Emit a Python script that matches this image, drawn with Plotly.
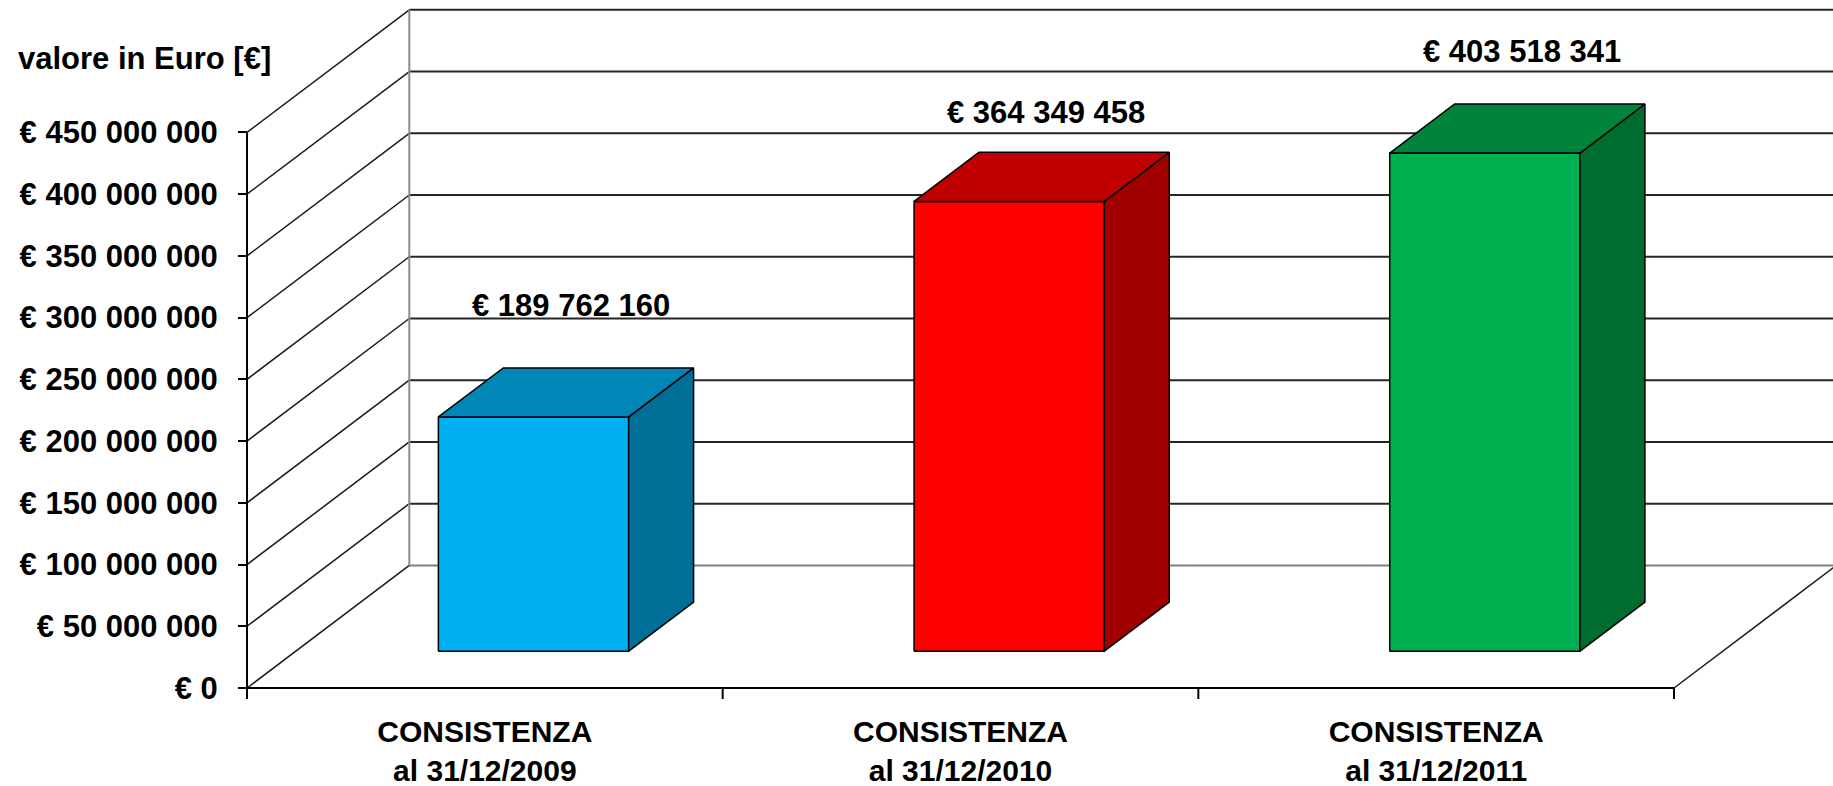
import plotly.graph_objects as go

# ---------------- data ----------------
categories = ["CONSISTENZA<br>al 31/12/2009",
              "CONSISTENZA<br>al 31/12/2010",
              "CONSISTENZA<br>al 31/12/2011"]
values = [189762160, 364349458, 403518341]
y_ticks = [0, 50000000, 100000000, 150000000, 200000000,
           250000000, 300000000, 350000000, 400000000, 450000000]
y_axis_title = "valore in Euro [€]"

# ---------------- style ----------------
front_colors = ["#00B0F0", "#FF0000", "#00B050"]
top_colors = ["#0087B8", "#C00000", "#00843C"]
side_colors = ["#006F98", "#A00000", "#006C2F"]
label_gap_px = [87, 64, 77]   # vertical gap of each value label above its bar

W, H = 1833, 786
FONT = "Liberation Sans, Arial, sans-serif"
FS = 31

# pixel geometry of the 3D frame
PX_PER_CAT = 475.67           # px per category on front plane
PX_PER_EUR = 61.73 / 50e6     # px per euro
DX = 162.3 / PX_PER_CAT       # depth offset (x units)
DY = 122.6 / PX_PER_EUR       # depth offset (euro units)
Z0, Z1 = 0.3, 0.7             # bar depth span
B0, B1 = 0.3, 0.7             # bar width span within category

L_MARGIN, B_MARGIN = 227, 76
PAD_X, PAD_Y = 20, 22
plot_w = W - L_MARGIN
plot_h = H - B_MARGIN
x0 = -PAD_X / PX_PER_CAT
x1 = x0 + plot_w / PX_PER_CAT
y0 = -PAD_Y / PX_PER_EUR
y1 = y0 + plot_h / PX_PER_EUR

n = len(values)
ymax_tick = y_ticks[-1]

fig = go.Figure()


def line(xs, ys, color="#1a1a1a", width=2):
    fig.add_trace(go.Scatter(x=xs, y=ys, mode="lines",
                             line=dict(color=color, width=width),
                             hoverinfo="skip", showlegend=False))


def poly(xs, ys, fill):
    fig.add_trace(go.Scatter(x=xs + [xs[0]], y=ys + [ys[0]], mode="lines",
                             fill="toself", fillcolor=fill,
                             line=dict(color="#000000", width=1.5),
                             hoverinfo="skip", showlegend=False))


# back wall gridlines
for v in y_ticks:
    col = "#7f7f7f" if v == 0 else "#262626"
    line([DX, n + DX], [v + DY, v + DY], color=col, width=2)
# left wall diagonals
for v in y_ticks:
    line([0, DX], [v, v + DY], color="#1a1a1a", width=1.5)
# left wall back edge
line([DX, DX], [DY, ymax_tick + DY], color="#8c8c8c", width=2)
# floor right edge
line([n, n + DX], [0, DY], color="#1a1a1a", width=1.5)
# front value axis line
line([0, 0], [0, ymax_tick], color="#000000", width=2)
# front category axis line
line([0, n], [0, 0], color="#000000", width=2)
# category boundary ticks
tick_len = 11 / PX_PER_EUR
for k in range(n + 1):
    line([k, k], [0, -tick_len], color="#000000", width=2)

# bars
for i, v in enumerate(values):
    xl0 = i + B0 + Z0 * DX
    xr0 = i + B1 + Z0 * DX
    xl1 = i + B0 + Z1 * DX
    xr1 = i + B1 + Z1 * DX
    yb0 = Z0 * DY
    yb1 = Z1 * DY
    poly([xl0, xr0, xr0, xl0], [yb0, yb0, v + yb0, v + yb0], front_colors[i])
    poly([xr0, xr1, xr1, xr0], [yb0, yb1, v + yb1, v + yb0], side_colors[i])
    poly([xl0, xr0, xr1, xl1], [v + yb0, v + yb0, v + yb1, v + yb1], top_colors[i])

# value labels
for i, v in enumerate(values):
    txt = "€ " + f"{v:,}".replace(",", " ")
    fig.add_annotation(x=i + 0.5 + 0.5 * DX + 0.01,
                       y=v + 0.5 * DY + label_gap_px[i] / PX_PER_EUR,
                       xref="x", yref="y", text=txt, showarrow=False,
                       font=dict(family=FONT, size=FS, color="black", weight="bold"),
                       xanchor="center", yanchor="middle")

# axis title
fig.add_annotation(x=(16 - L_MARGIN) / plot_w, y=1 - 58 / plot_h,
                   xref="paper", yref="paper", text=y_axis_title, showarrow=False,
                   font=dict(family=FONT, size=FS, color="black", weight="bold"),
                   xanchor="left", yanchor="middle")

y_ticktext = ["€ " + f"{t:,}".replace(",", " ") for t in y_ticks]

fig.update_layout(
    width=W, height=H,
    margin=dict(l=L_MARGIN, r=0, t=0, b=B_MARGIN, pad=0, autoexpand=False),
    paper_bgcolor="white", plot_bgcolor="white",
    showlegend=False,
    xaxis=dict(range=[x0, x1], anchor="free", position=PAD_Y / plot_h,
               automargin=False,
               tickvals=[i + 0.5 for i in range(n)], ticktext=categories,
               ticks="", showline=False, showgrid=False, zeroline=False,
               tickfont=dict(family=FONT, size=30, color="black", weight="bold"),
               ticklabelstandoff=23),
    yaxis=dict(range=[y0, y1], anchor="free", position=PAD_X / plot_w,
               automargin=False,
               tickvals=y_ticks, ticktext=y_ticktext,
               ticks="outside", ticklen=9, tickwidth=2, tickcolor="black",
               showline=False, showgrid=False, zeroline=False,
               tickfont=dict(family=FONT, size=FS, color="black", weight="bold"),
               ticklabelstandoff=14),
)

fig.write_html("out.html",
               config={"displayModeBar": False},
               post_script="document.body.style.margin='0';"
                           "document.body.style.overflow='hidden';")
